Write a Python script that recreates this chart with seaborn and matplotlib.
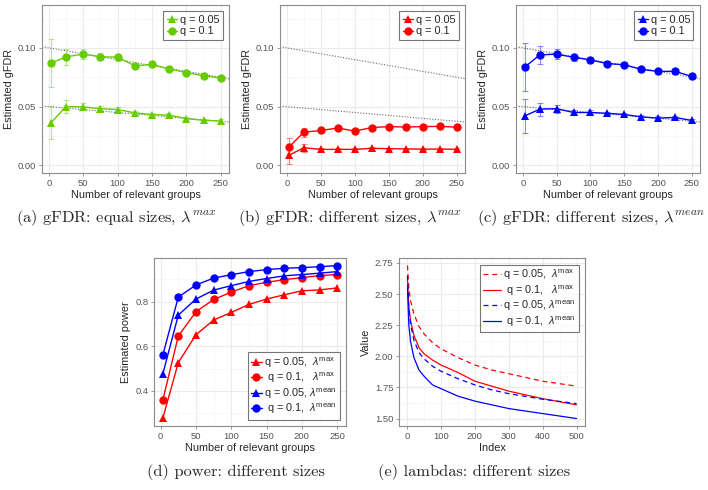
import numpy as np
import pandas as pd
import matplotlib
matplotlib.use("Agg")
import matplotlib.pyplot as plt
from matplotlib.lines import Line2D
import seaborn as sns

# ---- data ----
groups = [3, 25, 50, 75, 100, 125, 150, 175, 200, 225, 250]

# (a) equal sizes, lambda max
a_q05 = [0.0362, 0.0501, 0.0497, 0.0483, 0.0475, 0.0447, 0.0432, 0.0428, 0.0398, 0.0383, 0.0378]
a_q05_err = [0.014, 0.0055, 0.003, 0.002, 0.002, 0.0015, 0.0015, 0.0015, 0.0015, 0.0015, 0.0015]
a_q10 = [0.0870, 0.0924, 0.0947, 0.0924, 0.0922, 0.0847, 0.0859, 0.0820, 0.0790, 0.0763, 0.0743]
a_q10_err = [0.0205, 0.007, 0.004, 0.003, 0.003, 0.002, 0.002, 0.002, 0.002, 0.002, 0.002]

# (b) different sizes, lambda max
b_q05 = [0.0085, 0.0150, 0.0136, 0.0136, 0.0136, 0.0145, 0.0142, 0.0140, 0.0138, 0.0138, 0.0137]
b_q05_err = [0.007, 0.0035, 0.0015, 0.001, 0.001, 0.001, 0.001, 0.001, 0.001, 0.001, 0.001]
b_q10 = [0.0155, 0.0282, 0.0297, 0.0318, 0.0292, 0.0322, 0.0330, 0.0326, 0.0330, 0.0332, 0.0325]
b_q10_err = [0.008, 0.004, 0.002, 0.0015, 0.0015, 0.0015, 0.0015, 0.0015, 0.0015, 0.0015, 0.0015]

# (c) different sizes, lambda mean
c_q05 = [0.0421, 0.0478, 0.0483, 0.0450, 0.0450, 0.0443, 0.0433, 0.0413, 0.0402, 0.0408, 0.0382]
c_q05_err = [0.0145, 0.0055, 0.0035, 0.002, 0.002, 0.0015, 0.0015, 0.0015, 0.0015, 0.0015, 0.0015]
c_q10 = [0.0836, 0.0940, 0.0947, 0.0920, 0.0898, 0.0866, 0.0857, 0.0817, 0.0800, 0.0800, 0.0757]
c_q10_err = [0.0205, 0.0075, 0.0045, 0.003, 0.0025, 0.002, 0.002, 0.002, 0.002, 0.002, 0.002]

# nominal levels (dotted reference lines), two points each
ref_x = [0, 250]
ref_q10 = [0.100, 0.075]
ref_q05 = [0.050, 0.0375]

# (d) power
pow_q05_max = [0.277, 0.527, 0.652, 0.718, 0.752, 0.788, 0.812, 0.831, 0.849, 0.853, 0.862]
pow_q10_max = [0.358, 0.646, 0.755, 0.810, 0.843, 0.872, 0.887, 0.899, 0.908, 0.917, 0.922]
pow_q05_mean = [0.475, 0.740, 0.812, 0.852, 0.872, 0.891, 0.904, 0.916, 0.922, 0.928, 0.935]
pow_q10_mean = [0.560, 0.821, 0.875, 0.906, 0.921, 0.935, 0.944, 0.950, 0.953, 0.957, 0.962]

# (e) lambdas
idx = [1, 5, 10, 20, 35, 50, 75, 100, 150, 200, 250, 300, 400, 500]
lam_q05_max = [2.73, 2.55, 2.45, 2.34, 2.24, 2.18, 2.11, 2.06, 1.99, 1.93, 1.89, 1.86, 1.80, 1.76]
lam_q10_max = [2.62, 2.40, 2.29, 2.17, 2.07, 2.02, 1.97, 1.93, 1.87, 1.80, 1.76, 1.72, 1.66, 1.61]
lam_q05_mean = [2.65, 2.38, 2.26, 2.13, 2.03, 1.98, 1.92, 1.88, 1.82, 1.77, 1.73, 1.70, 1.655, 1.62]
lam_q10_mean = [2.55, 2.25, 2.12, 1.99, 1.89, 1.84, 1.77, 1.74, 1.68, 1.64, 1.61, 1.58, 1.54, 1.50]

GREEN = "#66CC00"
RED = "#FF0000"
BLUE = "#0000FF"

sns.set_theme(style="whitegrid")
plt.rcParams["font.family"] = ["Liberation Sans", "DejaVu Sans"]
plt.rcParams["mathtext.fontset"] = "custom"
plt.rcParams["mathtext.rm"] = "Liberation Sans"
plt.rcParams["mathtext.it"] = "Liberation Sans:italic"

W, H = 708, 490
fig = plt.figure(figsize=(W / 100, H / 100), dpi=100)


def add_ax(x0, x1, y0, y1):
    return fig.add_axes([x0 / W, 1 - y1 / H, (x1 - x0) / W, (y1 - y0) / H])


def style(ax, xt, xm, yt, ym, fmt):
    ax.set_facecolor("white")
    ax.set_xticks(xt)
    ax.set_xticks(xm, minor=True)
    ax.set_yticks(yt)
    ax.set_yticks(ym, minor=True)
    ax.set_yticklabels([fmt.format(v) for v in yt])
    ax.grid(which="major", color="#EBEBEB", lw=0.8)
    ax.grid(which="minor", color="#F4F4F4", lw=0.5)
    for s in ax.spines.values():
        s.set_color("#8C8C8C")
        s.set_linewidth(0.8)
    ax.tick_params(which="major", length=2.5, width=0.6, color="#8C8C8C",
                   labelcolor="#555555", labelsize=6.8, pad=1.5,
                   bottom=True, left=True)
    ax.tick_params(which="minor", length=0)


def fdr_panel(ax, y05, e05, y10, e10, color):
    ax.axline((ref_x[0], ref_q10[0]), (ref_x[1], ref_q10[1]), color="#666677", ls=(0, (1, 1.5)), lw=0.8, zorder=1)
    ax.axline((ref_x[0], ref_q05[0]), (ref_x[1], ref_q05[1]), color="#666677", ls=(0, (1, 1.5)), lw=0.8, zorder=1)
    for y, e, m in [(y05, e05, "^"), (y10, e10, "o")]:
        ax.errorbar(groups, y, yerr=e, fmt="none", ecolor=color, alpha=0.45,
                    elinewidth=0.8, capsize=2, capthick=0.8, zorder=2)
        sns.lineplot(x=groups, y=y, ax=ax, color=color, marker=m, markersize=6,
                     markeredgewidth=0, lw=1, zorder=3)
    ax.set_xlim(-10, 262)
    ax.set_ylim(-0.0065, 0.1365)
    style(ax, [0, 50, 100, 150, 200, 250], [25, 75, 125, 175, 225],
          [0.0, 0.05, 0.10], [0.025, 0.075, 0.125], "{:.2f}")
    ax.set_xlabel("Number of relevant groups", fontsize=7.8, labelpad=2)
    ax.set_ylabel("Estimated gFDR", fontsize=7.8, labelpad=3)
    handles = [Line2D([], [], color=color, marker="^", ms=6, lw=1, mew=0),
               Line2D([], [], color=color, marker="o", ms=6, lw=1, mew=0)]
    leg = ax.legend(handles, ["q = 0.05", "q = 0.1"], loc="upper right",
                    fontsize=7.8, frameon=True, fancybox=False, handlelength=1.0,
                    handletextpad=0.2, labelspacing=0.15, borderpad=0.3,
                    borderaxespad=0.6)
    leg.get_frame().set_edgecolor("#555555")
    leg.get_frame().set_linewidth(0.8)


ax_a = add_ax(42, 229, 5, 173)
fdr_panel(ax_a, a_q05, a_q05_err, a_q10, a_q10_err, GREEN)
ax_b = add_ax(280, 465, 5, 173)
fdr_panel(ax_b, b_q05, b_q05_err, b_q10, b_q10_err, RED)
ax_c = add_ax(516, 700, 5, 173)
fdr_panel(ax_c, c_q05, c_q05_err, c_q10, c_q10_err, BLUE)

# (d) power
ax_d = add_ax(154, 346, 258, 426)
lab_max05 = r"q = 0.05,  $\lambda^{\mathrm{max}}$"
lab_max10 = r" q = 0.1,   $\lambda^{\mathrm{max}}$"
lab_mean05 = r"q = 0.05, $\lambda^{\mathrm{mean}}$"
lab_mean10 = r" q = 0.1,  $\lambda^{\mathrm{mean}}$"
power_series = [(pow_q05_max, RED, "^", lab_max05), (pow_q10_max, RED, "o", lab_max10),
                (pow_q05_mean, BLUE, "^", lab_mean05), (pow_q10_mean, BLUE, "o", lab_mean10)]
handles = []
for y, col, m, lab in power_series:
    sns.lineplot(x=groups, y=y, ax=ax_d, color=col, marker=m, markersize=6,
                 markeredgewidth=0, lw=1)
    handles.append(Line2D([], [], color=col, marker=m, ms=6, lw=1, mew=0))
ax_d.set_xlim(-9.4, 262.4)
ax_d.set_ylim(0.243, 0.996)
style(ax_d, [0, 50, 100, 150, 200, 250], [25, 75, 125, 175, 225],
      [0.4, 0.6, 0.8], [0.3, 0.5, 0.7, 0.9], "{:.1f}")
ax_d.set_xlabel("Number of relevant groups", fontsize=7.8, labelpad=2)
ax_d.set_ylabel("Estimated power", fontsize=7.8, labelpad=3)
leg = ax_d.legend(handles, [s[3] for s in power_series], loc="lower right",
                  fontsize=7.8, frameon=True, fancybox=False, handlelength=1.0,
                  handletextpad=0.2, labelspacing=0.1, borderpad=0.3,
                  borderaxespad=0.6)
leg.get_frame().set_edgecolor("#555555")
leg.get_frame().set_linewidth(0.8)

# (e) lambdas
ax_e = add_ax(399, 585, 258, 426)
lam_df = pd.DataFrame({
    "Index": idx * 4,
    "Value": lam_q05_max + lam_q10_max + lam_q05_mean + lam_q10_mean,
    "series": [lab_max05] * len(idx) + [lab_max10] * len(idx)
              + [lab_mean05] * len(idx) + [lab_mean10] * len(idx),
})
order = [lab_max05, lab_max10, lab_mean05, lab_mean10]
sns.lineplot(data=lam_df, x="Index", y="Value", hue="series", style="series",
             hue_order=order, style_order=order,
             palette=[RED, RED, BLUE, BLUE],
             dashes=[(4, 3), "", (4, 3), ""], lw=0.9, ax=ax_e)
ax_e.set_xlim(-24, 525)
ax_e.set_ylim(1.44, 2.79)
style(ax_e, [0, 100, 200, 300, 400, 500], [50, 150, 250, 350, 450],
      [1.50, 1.75, 2.00, 2.25, 2.50, 2.75], [1.625, 1.875, 2.125, 2.375, 2.625], "{:.2f}")
ax_e.set_xlabel("Index", fontsize=7.8, labelpad=2)
ax_e.set_ylabel("Value", fontsize=7.8, labelpad=3)
leg = ax_e.legend(loc="upper right", fontsize=7.8, frameon=True, fancybox=False,
                  handlelength=1.6, handletextpad=0.2, labelspacing=0.1,
                  borderpad=0.3, borderaxespad=0.6, title=None)
leg.get_frame().set_edgecolor("#555555")
leg.get_frame().set_linewidth(0.8)

# captions
cap = dict(fontsize=11.8, family="cmr10", math_fontfamily="cm", ha="center", va="center")
fig.text(116 / W, 1 - 218 / H, r"(a) gFDR: equal sizes, $\lambda^{max}$", **cap)
fig.text(350 / W, 1 - 218 / H, r"(b) gFDR: different sizes, $\lambda^{max}$", **cap)
fig.text(591 / W, 1 - 218 / H, r"(c) gFDR: different sizes, $\lambda^{mean}$", **cap)
fig.text(236 / W, 1 - 472 / H, "(d) power: different sizes", **cap)
fig.text(474 / W, 1 - 472 / H, "(e) lambdas: different sizes", **cap)

fig.savefig("out.png", dpi=100, facecolor="white")
